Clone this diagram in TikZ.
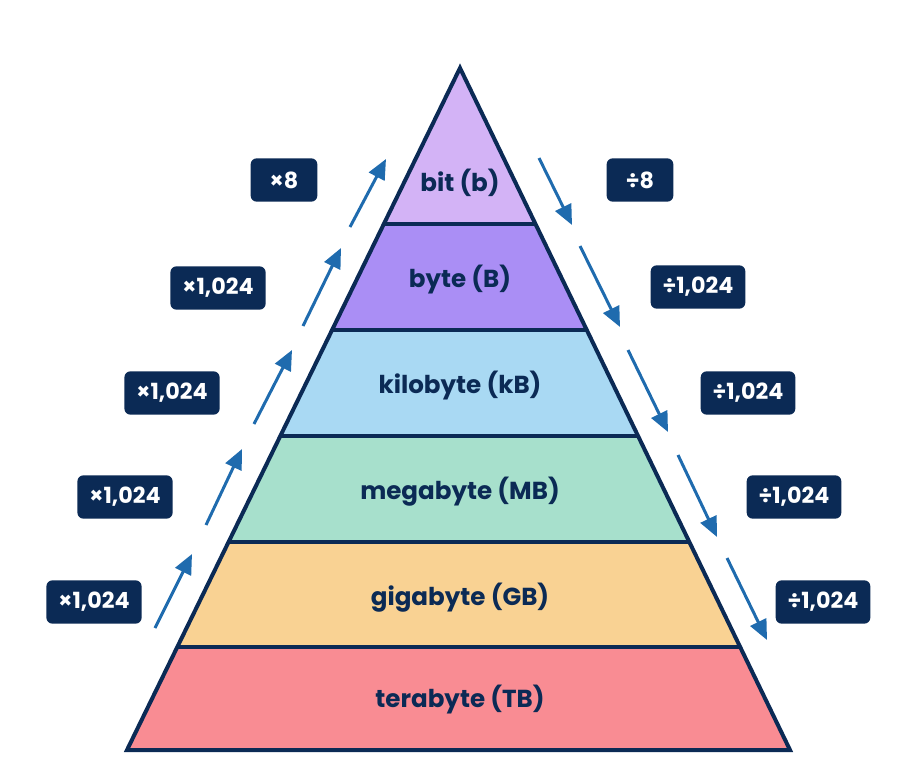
\documentclass[tikz,border=0pt]{standalone}
\usepackage{fontspec}
\setmainfont{Poppins}
\usetikzlibrary{arrows.meta}
\definecolor{navy}{HTML}{0B2A55}
\definecolor{arrowblue}{HTML}{1F6BAE}
\definecolor{bitcol}{HTML}{D3B3F6}
\definecolor{bytecol}{HTML}{AA8EF5}
\definecolor{kbcol}{HTML}{A9D9F3}
\definecolor{mbcol}{HTML}{A7E0CC}
\definecolor{gbcol}{HTML}{F9D293}
\definecolor{tbcol}{HTML}{F98C93}
\tikzset{
  unitlabel/.style={text=navy, font=\fontsize{21}{24}\selectfont\bfseries},
  factorbox/.style={fill=navy, text=white, rounded corners=0.18cm,
    minimum height=1.3cm, minimum width=2cm, inner xsep=0.36cm,
    font=\fontsize{19}{22}\selectfont\bfseries},
  convarrow/.style={draw=arrowblue, line width=0.09cm,
    -{Triangle[length=0.6cm,width=0.52cm]}},
}
\begin{document}
\begin{tikzpicture}[x=0.03cm,y=-0.03cm]
    \useasboundingbox (0,0) rectangle (908,762);
    %% Bands
    \foreach \ya/\xa/\xb/\yb/\xc/\xd/\col in {
        68/460/460/224/383.8/535.5/bitcol,
        224/383.8/535.5/330/332.1/586.8/bytecol,
        330/332.1/586.8/436/280.3/638.1/kbcol,
        436/280.3/638.1/542/228.6/689.4/mbcol,
        542/228.6/689.4/647/177.3/740.2/gbcol,
        647/177.3/740.2/750/127/790/tbcol} {
        \fill[\col] (\xa,\ya) -- (\xb,\ya) -- (\xd,\yb) -- (\xc,\yb) -- cycle;
    }
    %% Outline
    \foreach \y/\xl/\xr in {224/383.8/535.5, 330/332.1/586.8, 436/280.3/638.1,
        542/228.6/689.4, 647/177.3/740.2} {
        \draw[navy, line width=0.12cm] (\xl,\y) -- (\xr,\y);
    }
    \draw[navy, line width=0.12cm, line join=miter]
        (460,68) -- (790,750) -- (127,750) -- cycle;
    %% Units
    \node[unitlabel] (bit) at (460,183) {bit (b)};
    \node[unitlabel] (byte) at (460,280) {byte (B)};
    \node[unitlabel] (kilo) at (460,386) {kilobyte (kB)};
    \node[unitlabel] (mega) at (460,492) {megabyte (MB)};
    \node[unitlabel] (giga) at (460,598) {gigabyte (GB)};
    \node[unitlabel] (tera) at (460,700) {terabyte (TB)};
    %% Factors
    \node[factorbox] (up1) at (284,180) {×8};
    \node[factorbox] (up2) at (218,288) {×1,024};
    \node[factorbox] (up3) at (172,393) {×1,024};
    \node[factorbox] (up4) at (125,497) {×1,024};
    \node[factorbox] (up5) at (94,602) {×1,024};
    \node[factorbox] (down1) at (640,180) {÷8};
    \node[factorbox] (down2) at (698,287) {÷1,024};
    \node[factorbox] (down3) at (748,393) {÷1,024};
    \node[factorbox] (down4) at (794,497) {÷1,024};
    \node[factorbox] (down5) at (823,602) {÷1,024};
    %% Arrows
    \foreach \n/\xs/\ys/\xe/\ye in {1/350/227/386/159, 2/303/326/341/248,
        3/254/424/292/350, 4/206/525/242/449, 5/155/628/192/554} {
        \coordinate (ua\n) at (\xs,\ys);
        \coordinate (ub\n) at (\xe,\ye);
        \draw[convarrow] (ua\n) -- (ub\n);
    }
    \foreach \n/\xs/\ys/\xe/\ye in {1/539/158/572/225, 2/580/246/620/327,
        3/628/350/668/432, 4/678/455/717/537, 5/727/558/767/640} {
        \coordinate (da\n) at (\xs,\ys);
        \coordinate (db\n) at (\xe,\ye);
        \draw[convarrow] (da\n) -- (db\n);
    }
\end{tikzpicture}
\end{document}
